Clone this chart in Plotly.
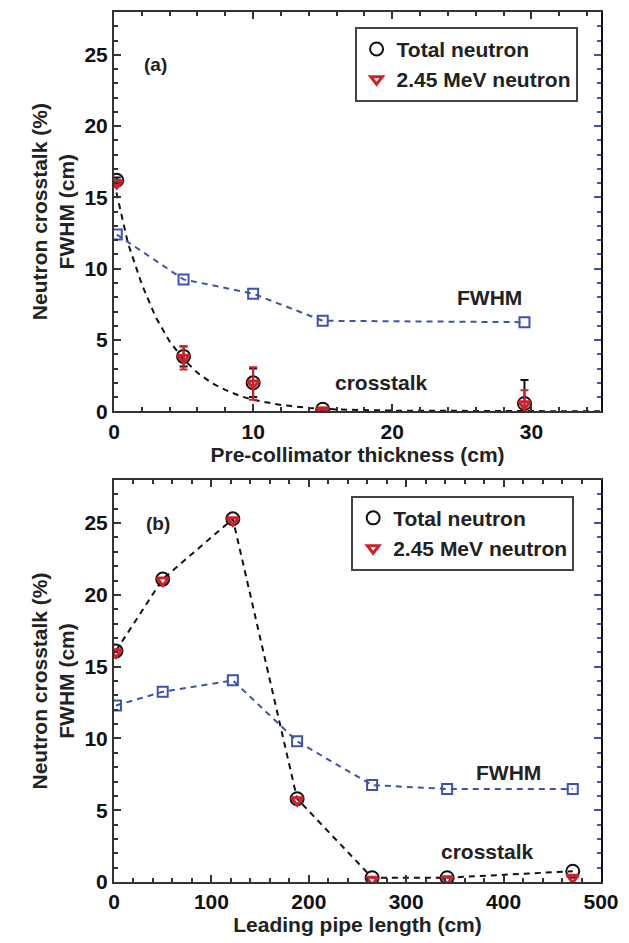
import plotly.graph_objects as go

# ---------------- Panel (a): pre-collimator thickness ----------------
a_x = [0.2, 5, 10, 15, 29.5]
a_total = [16.2, 3.85, 2.0, 0.15, 0.55]
a_total_err = [0.2, 0.7, 1.0, 0.1, 1.65]
a_245 = [16.0, 3.75, 1.95, 0.05, 0.5]
a_245_err = [0.2, 0.82, 1.14, 0.1, 0.97]
a_fwhm = [12.4, 9.25, 8.25, 6.35, 6.25]
a_fit_x = [0, 1, 2, 3, 4, 5, 6, 7, 8, 9, 10, 12, 14, 16, 20, 25, 30, 35]
a_fit_y = [16.1, 11.8, 8.9, 6.6, 4.9, 3.65, 2.7, 2.0, 1.5, 1.1, 0.8, 0.45, 0.24, 0.13, 0.05, 0.02, 0.01, 0.0]

# ---------------- Panel (b): leading pipe length ----------------
b_x = [2, 50, 122, 188, 265, 342, 471]
b_total = [16.1, 21.1, 25.3, 5.8, 0.3, 0.3, 0.75]
b_245 = [16.0, 21.0, 25.2, 5.7, 0.15, 0.2, 0.3]
b_fwhm = [12.3, 13.25, 14.05, 9.8, 6.75, 6.48, 6.48]

BLACK = "#111111"
RED = "#d0202a"
BLUE = "#4052ad"
FONT = "Liberation Sans"

fig = go.Figure()

def add_panel(xa, ya, ya_r, x, tot, tot_err, r245, r245_err, fwhm, line_x, line_y, legend):
    fig.add_trace(go.Scatter(x=line_x, y=line_y, mode="lines", xaxis=xa, yaxis=ya,
                             line=dict(color=BLACK, width=2, dash="6px,5px"),
                             showlegend=False, hoverinfo="skip"))
    fig.add_trace(go.Scatter(x=x, y=fwhm, mode="lines+markers", xaxis=xa, yaxis=ya_r,
                             line=dict(color=BLUE, width=2, dash="6px,5px"),
                             marker=dict(symbol="square-open", size=10, color=BLUE, line=dict(width=2)),
                             showlegend=False))
    fig.add_trace(go.Scatter(x=x, y=tot, mode="markers", xaxis=xa, yaxis=ya, name="Total neutron",
                             legend=legend,
                             marker=dict(symbol="circle-open", size=13, color=BLACK, line=dict(width=2)),
                             error_y=dict(type="data", array=tot_err, visible=tot_err is not None,
                                          color=BLACK, thickness=2, width=4)))
    fig.add_trace(go.Scatter(x=x, y=r245, mode="markers", xaxis=xa, yaxis=ya, name="2.45 MeV neutron",
                             legend=legend,
                             marker=dict(symbol="triangle-down-open", size=10, color=RED, line=dict(width=3)),
                             error_y=dict(type="data", array=r245_err, visible=r245_err is not None,
                                          color=RED, thickness=2, width=4)))

add_panel("x", "y", "y3", a_x, a_total, a_total_err, a_245, a_245_err, a_fwhm, a_fit_x, a_fit_y, "legend")
add_panel("x2", "y2", "y4", b_x, b_total, None, b_245, None, b_fwhm, b_x, b_total, "legend2")

tickfont = dict(family=FONT, size=21, color=BLACK, weight="bold")
titlefont = dict(family=FONT, size=21, color="#222222", weight="bold")

common_x = dict(showline=True, linecolor="#333333", linewidth=2, mirror="ticks", ticks="inside",
                ticklen=7, tickwidth=1.5, tickcolor="#333333", showgrid=False, zeroline=False,
                tickfont=tickfont, title_font=titlefont, title_standoff=4)
common_y = dict(showline=True, linecolor="#333333", linewidth=2, ticks="inside", ticklen=7,
                tickwidth=1.5, tickcolor="#333333", showgrid=False, zeroline=False,
                range=[0, 28], tickvals=[0, 5, 10, 15, 20, 25],
                minor=dict(dtick=1, ticks="inside", ticklen=4, tickcolor="#333333"),
                tickfont=tickfont, title_font=titlefont, title_standoff=4)
right_y = dict(showline=True, linecolor=BLACK, linewidth=2, ticks="inside", ticklen=7, tickwidth=1.5,
               tickcolor=BLUE, showgrid=False, zeroline=False, showticklabels=False, side="right",
               range=[0, 28], tickvals=[0, 5, 10, 15, 20, 25],
               minor=dict(dtick=1, ticks="inside", ticklen=4, tickcolor=BLUE))

ytitle = "Neutron crosstalk (%)<br>FWHM (cm)"
legfont = dict(family=FONT, size=21, color="#222222", weight="bold")

fig.update_layout(
    width=629, height=943,
    margin=dict(l=114, r=20, t=10, b=61),
    paper_bgcolor="white", plot_bgcolor="white",
    font=dict(family=FONT, color=BLACK),
    xaxis=dict(common_x, domain=[0, 1], anchor="y", range=[0, 35], tickvals=[0, 10, 20, 30],
               minor=dict(dtick=2, ticks="inside", ticklen=4, tickcolor="#333333"),
               title_text="Pre-collimator thickness (cm)"),
    yaxis=dict(common_y, domain=[0.541, 1], anchor="x", title_text=ytitle),
    yaxis3=dict(right_y, overlaying="y", anchor="x"),
    xaxis2=dict(common_x, domain=[0, 1], anchor="y2", range=[0, 500], tickvals=[0, 100, 200, 300, 400, 500],
                minor=dict(dtick=20, ticks="inside", ticklen=4, tickcolor="#333333"),
                title_text="Leading pipe length (cm)"),
    yaxis2=dict(common_y, domain=[0, 0.462], anchor="x2", title_text=ytitle),
    yaxis4=dict(right_y, overlaying="y2", anchor="x2"),
    legend=dict(x=0.494, y=0.983, xanchor="left", yanchor="top", bgcolor="white",
                bordercolor="#444444", borderwidth=2, tracegroupgap=0, font=legfont),
    legend2=dict(x=0.487, y=0.444, xanchor="left", yanchor="top", bgcolor="white",
                 bordercolor="#444444", borderwidth=2, tracegroupgap=0, font=legfont),
    showlegend=True,
)

ann_font = dict(family=FONT, size=21, color="#222222", weight="bold")
fig.add_annotation(x=3.0, y=24.3, xref="x", yref="y", text="(a)", showarrow=False,
                   font=dict(family=FONT, size=19, color="#222222", weight="bold"))
fig.add_annotation(x=27, y=8.0, xref="x", yref="y", text="FWHM", showarrow=False, font=ann_font)
fig.add_annotation(x=19.2, y=2.0, xref="x", yref="y", text="crosstalk", showarrow=False, font=ann_font)
fig.add_annotation(x=45, y=25.0, xref="x2", yref="y2", text="(b)", showarrow=False,
                   font=dict(family=FONT, size=19, color="#222222", weight="bold"))
fig.add_annotation(x=405, y=7.6, xref="x2", yref="y2", text="FWHM", showarrow=False, font=ann_font)
fig.add_annotation(x=383, y=2.1, xref="x2", yref="y2", text="crosstalk", showarrow=False, font=ann_font)

fig.write_html("out.html", config={"displayModeBar": False},
               post_script="document.body.style.margin='0';")
